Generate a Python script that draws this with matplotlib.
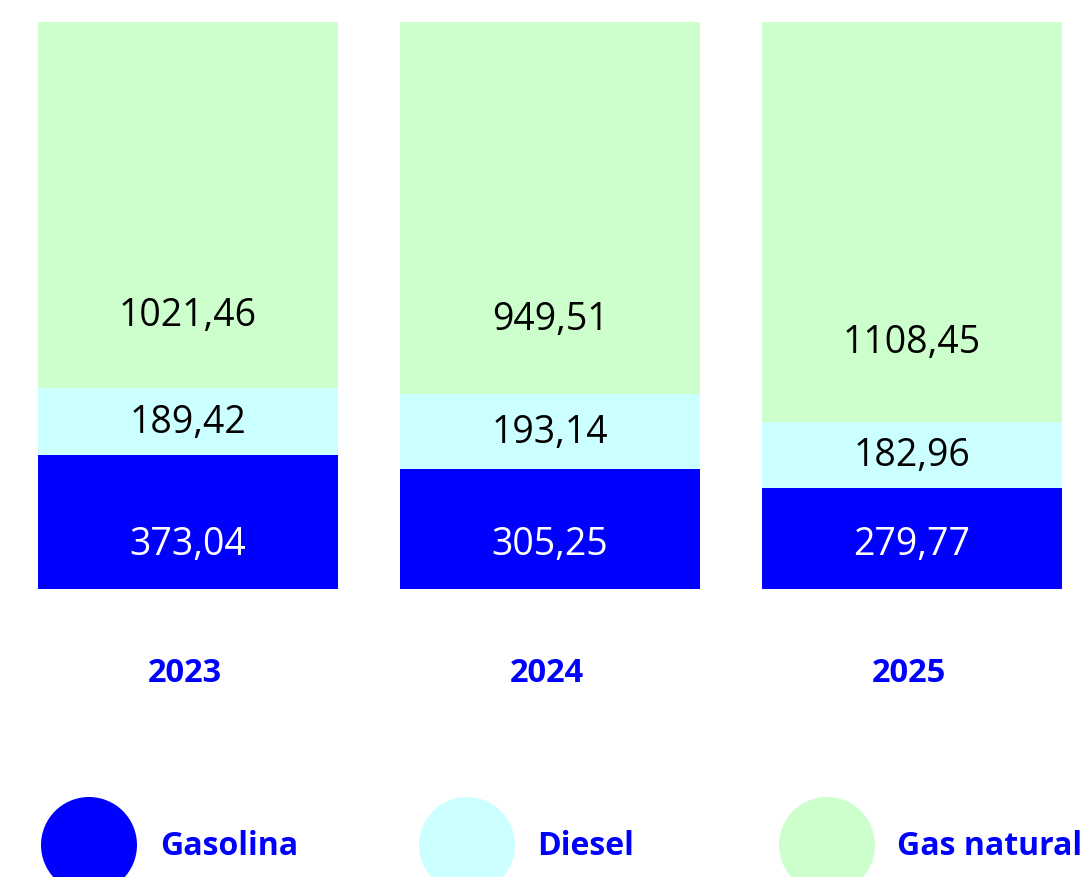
import matplotlib.pyplot as plt
from matplotlib.patches import Circle
import numpy as np

years = ["2023", "2024", "2025"]
gasolina = [373.04, 305.25, 279.77]
diesel = [189.42, 193.14, 182.96]
gas_natural = [1021.46, 949.51, 1108.45]

series_names = ["Gasolina", "Diesel", "Gas natural"]
colors = ["#0000ff", "#ccffff", "#ccffcc"]
text_colors = ["white", "black", "black"]

plt.rcParams["font.family"] = ["Open Sans", "DejaVu Sans"]


def fmt(v):
    return f"{v:.2f}".replace(".", ",")


def main():
    W, H = 1088, 878
    fig = plt.figure(figsize=(W / 100, H / 100), dpi=100)

    # main stacked (100%) bar area, in pixel terms: top 23, bottom 590
    top_px, bot_px = 23, 590
    ax = fig.add_axes([0, 1 - bot_px / H, 1, (bot_px - top_px) / H])
    pitch = 362
    first_center = 188
    ax.set_xlim(-first_center / pitch, (W - first_center) / pitch)
    ax.set_ylim(0, 100)
    ax.axis("off")

    data = np.array([gasolina, diesel, gas_natural])
    totals = data.sum(axis=0)
    shares = data / totals * 100
    x = np.arange(len(years))
    width = 300 / pitch

    bottom = np.zeros(len(years))
    for k in range(len(series_names)):
        ax.bar(x, shares[k], width, bottom=bottom, color=colors[k], linewidth=0)
        for i in range(len(years)):
            if k == 0:
                y = 8.0
            elif k == 1:
                y = bottom[i] + shares[k][i] / 2
            else:
                y = bottom[i] + shares[k][i] * 0.2
            ax.text(x[i], y, fmt(data[k][i]), ha="center", va="center",
                    fontsize=27, color=text_colors[k])
        bottom += shares[k]

    px_to_y = 100 / (bot_px - top_px)
    for i, yr in enumerate(years):
        ax.text(x[i] - 0.008, -(673 - bot_px) * px_to_y, yr, ha="center", va="center",
                fontsize=23.5, fontweight="bold", color="#0000ff", clip_on=False)

    # legend row with big circles, partly cut by the bottom edge
    lax = fig.add_axes([0, 0, 1, 108 / H])
    lax.set_xlim(0, W)
    lax.set_ylim(H, H - 108)
    lax.axis("off")
    circle_x = [89, 467, 827]
    label_x = [160, 537, 897]
    for k, name in enumerate(series_names):
        lax.add_patch(Circle((circle_x[k], 846), 48, color=colors[k], lw=0, clip_on=False))
        lax.text(label_x[k], 847, name, ha="left", va="center", fontsize=23,
                 fontweight="bold", color="#0000ff")

    fig.savefig("out.png", dpi=100)


if __name__ == "__main__":
    main()
